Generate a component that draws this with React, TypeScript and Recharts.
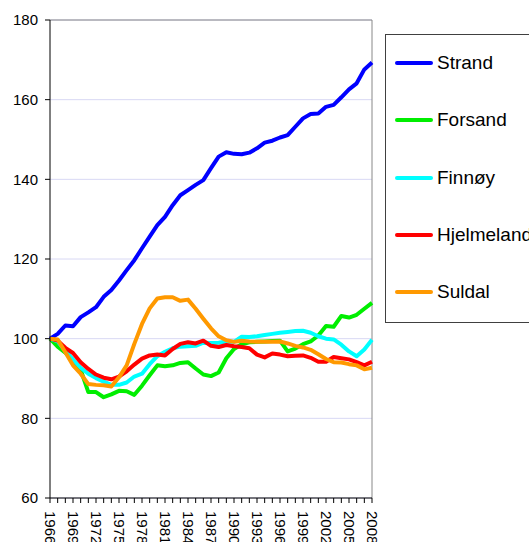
import React from 'react';
import {
  LineChart,
  Line,
  XAxis,
  YAxis,
  CartesianGrid,
  Legend,
  ReferenceLine,
} from 'recharts';

// Population index, 1966 = 100
const years = [
  1966, 1967, 1968, 1969, 1970, 1971, 1972, 1973, 1974, 1975, 1976,
  1977, 1978, 1979, 1980, 1981, 1982, 1983, 1984, 1985, 1986, 1987,
  1988, 1989, 1990, 1991, 1992, 1993, 1994, 1995, 1996, 1997, 1998,
  1999, 2000, 2001, 2002, 2003, 2004, 2005, 2006, 2007, 2008,
];

const strand = [
  100, 101.2, 103.3, 103.1, 105.4, 106.6, 107.9, 110.5, 112.2, 114.6, 117.2,
  119.7, 122.7, 125.6, 128.5, 130.6, 133.5, 136.0, 137.3, 138.6, 139.8, 142.8,
  145.7, 146.8, 146.4, 146.3, 146.7, 147.8, 149.2, 149.7, 150.5, 151.1, 153.2,
  155.3, 156.4, 156.5, 158.2, 158.7, 160.6, 162.6, 164.1, 167.6, 169.3,
];

const forsand = [
  100, 98.0, 96.5, 94.5, 92.2, 86.6, 86.6, 85.3, 86.0, 86.9, 86.8,
  85.9, 88.2, 90.8, 93.3, 93.1, 93.3, 93.9, 94.1, 92.5, 91.0, 90.6,
  91.5, 95.1, 97.4, 98.6, 99.1, 99.2, 99.3, 99.4, 99.5, 96.8, 97.5,
  98.6, 99.3, 100.8, 103.2, 103.0, 105.7, 105.3, 106.0, 107.5, 109.0,
];

const finnoy = [
  100, 99.3, 97.0, 94.8, 92.7, 91.2, 90.1, 89.2, 88.4, 88.4, 89.0,
  90.5, 91.2, 93.6, 95.6, 96.7, 97.6, 98.0, 98.1, 98.2, 99.0, 98.9,
  99.0, 99.3, 99.2, 100.5, 100.4, 100.6, 100.9, 101.2, 101.5, 101.7, 101.9,
  102.0, 101.5, 100.6, 100.0, 99.8, 98.5, 96.8, 95.6, 97.3, 99.7,
];

const hjelmeland = [
  100, 99.5, 97.7, 96.4, 94.1, 92.4, 91.0, 90.2, 89.8, 90.5, 91.8,
  93.5, 95.0, 95.8, 96.0, 95.8, 97.4, 98.7, 99.1, 98.8, 99.5, 98.2,
  97.9, 98.4, 98.1, 97.9, 97.6, 96.0, 95.3, 96.3, 96.0, 95.6, 95.7,
  95.8, 95.2, 94.2, 94.2, 95.4, 95.1, 94.8, 94.1, 93.3, 94.2,
];

const suldal = [
  100, 99.8, 96.6, 93.3, 91.2, 88.6, 88.4, 88.3, 88.0, 90.3, 93.3,
  98.7, 103.7, 107.6, 110.1, 110.4, 110.4, 109.5, 109.8, 107.5, 105.0, 102.6,
  100.6, 99.6, 99.2, 99.5, 99.3, 99.2, 99.2, 99.2, 99.3, 98.8, 98.2,
  97.8, 97.2, 96.1, 94.9, 94.1, 94.0, 93.6, 93.3, 92.3, 92.7,
];

const yTicks = [60, 80, 100, 120, 140, 160, 180];

const series = [
  { key: 'Strand', values: strand, color: '#0000ff' },
  { key: 'Forsand', values: forsand, color: '#00ee00' },
  { key: 'Finnøy', values: finnoy, color: '#00ffff' },
  { key: 'Hjelmeland', values: hjelmeland, color: '#ff0000' },
  { key: 'Suldal', values: suldal, color: '#ff9900' },
];

const data = years.map((year, i) => {
  const row: Record<string, number> = { year };
  series.forEach((s) => {
    row[s.key] = s.values[i];
  });
  return row;
});

const FONT = '"Liberation Sans", Arial, sans-serif';

function YearTick(props: any) {
  const { x, y, payload } = props;
  const yr = Number(payload.value);
  if ((yr - 1966) % 3 !== 0) return <g />;
  return (
    <text
      x={x}
      y={y}
      transform={`rotate(90 ${x} ${y})`}
      textAnchor="start"
      dominantBaseline="central"
      fontSize={15}
      fontFamily={FONT}
      fill="#000"
    >
      {yr}
    </text>
  );
}

function LegendBox() {
  return (
    <div
      style={{
        position: 'relative',
        width: 160,
        height: 289,
        border: '1px solid #404040',
        boxSizing: 'border-box',
        background: '#fff',
        fontFamily: FONT,
      }}
    >
      {series.map((s, i) => (
        <div
          key={s.key}
          style={{
            position: 'absolute',
            left: 9,
            top: 28 + i * 57.3 - 12,
            height: 24,
            display: 'flex',
            alignItems: 'center',
            whiteSpace: 'nowrap',
          }}
        >
          <div style={{ width: 38, height: 4, background: s.color, borderRadius: 2 }} />
          <span style={{ marginLeft: 4, fontSize: 19, color: '#000' }}>{s.key}</span>
        </div>
      ))}
    </div>
  );
}

export default function App() {
  return (
    <div
      style={{
        position: 'absolute',
        left: 0,
        top: 0,
        width: 529,
        height: 542,
        overflow: 'hidden',
        background: '#fff',
      }}
    >
      <LineChart
        width={529}
        height={542}
        data={data}
        margin={{ top: 20, right: 157, bottom: 0, left: 0 }}
      >
        <CartesianGrid vertical={false} stroke="#d8d8f4" strokeWidth={1} />
        <XAxis
          dataKey="year"
          interval={0}
          height={44}
          tick={<YearTick />}
          tickSize={5}
          tickMargin={8}
          stroke="#000"
          axisLine={{ stroke: '#000' }}
          tickLine={{ stroke: '#000' }}
        />
        <YAxis
          domain={[60, 180]}
          ticks={yTicks}
          width={50}
          tickSize={5}
          tickMargin={7}
          axisLine={{ stroke: '#000' }}
          tickLine={{ stroke: '#000' }}
          tick={{ fontSize: 15, fill: '#000', fontFamily: FONT }}
        />
        <ReferenceLine y={180} stroke="#888" strokeWidth={1} />
        <ReferenceLine x={2008} stroke="#888" strokeWidth={1} />
        {series.map((s) => (
          <Line
            key={s.key}
            type="linear"
            dataKey={s.key}
            stroke={s.color}
            strokeWidth={4}
            strokeLinejoin="round"
            dot={false}
            activeDot={false}
            isAnimationActive={false}
          />
        ))}
        <Legend
          layout="vertical"
          align="center"
          verticalAlign="middle"
          wrapperStyle={{ position: 'absolute', left: 385, top: 34, width: 160, height: 289 }}
          content={() => <LegendBox />}
        />
      </LineChart>
    </div>
  );
}
